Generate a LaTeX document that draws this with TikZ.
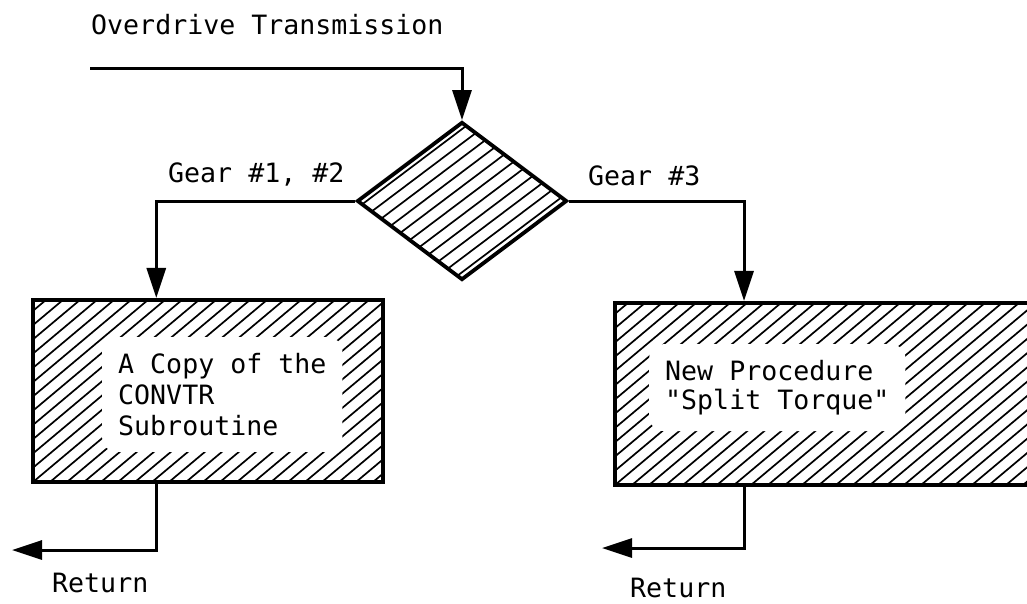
\documentclass[tikz,border=0pt]{standalone}
\usepackage{fontspec}
\setmonofont{DejaVu Sans Mono}
\usetikzlibrary{shapes.geometric,arrows.meta,calc}

\begin{document}
\begin{tikzpicture}[x=1pt,y=-1pt,
  conn/.style={line width=3pt},
  tip/.style={-{Triangle[length=30pt,width=19pt]}},
  typewriter/.style={font=\ttfamily\fontsize{26.6}{31}\selectfont},
  lbl/.style={typewriter, inner sep=0pt, anchor=base west},
  hatch/.style 2 args={path picture={
      \foreach \k in {-45,...,45}
        \draw[line width=1.7pt]
          ([xshift=\k*#1]path picture bounding box.south west) -- ++(#2:800pt);}},
  blockbox/.style={draw, line width=4.2pt, rectangle, inner sep=0pt, hatch={17pt}{40}},
  choice/.style={draw, line width=3.8pt, diamond, inner sep=0pt, hatch={19pt}{37}},
  clearing/.style={typewriter, fill=white, inner sep=16pt, rounded corners=14pt,
                   align=left, anchor=north west}
]
\useasboundingbox (0,0) rectangle (1027,603);
\clip (0,0) rectangle (1027,603);

% decision and the two procedure blocks
\node[choice, minimum width=210pt, minimum height=158pt] (dec) at (462,201) {};
\node[blockbox, minimum width=350pt, minimum height=182pt] (copy) at (208,391) {};
\node[blockbox, minimum width=430pt, minimum height=182pt] (proc) at (830,394) {};

% texts inside the blocks, on cleared patches of the hatching
\node[clearing] (copytext) at (102,337) {A Copy of the\\CONVTR\\Subroutine};
\node[clearing] (proctext) at (649,344) {New Procedure\\[-2pt]"Split Torque"};

% labels
\node[lbl] (title) at (91,34) {Overdrive Transmission};
\node[lbl] (gearA) at (168,182) {Gear \#1, \#2};
\node[lbl] (gearB) at (588,185) {Gear \#3};
\node[lbl] (retA) at (52,592) {Return};
\node[lbl] (retB) at (630,597) {Return};

% free ends of the connectors
\coordinate (entry) at (90,68);
\coordinate (exitA) at (12,550);
\coordinate (exitB) at (602,548);

% connectors
\draw[conn, tip] (entry) -| (dec.north);
\draw[conn, tip] (dec.west) -| ($(copy.north west)!0.354!(copy.north east)$);
\draw[conn, tip] (dec.east) -| ($(proc.north west)!0.302!(proc.north east)$);
\draw[conn, tip] ($(copy.south west)!0.354!(copy.south east)$) |- (exitA);
\draw[conn, tip] ($(proc.south west)!0.302!(proc.south east)$) |- (exitB);
\end{tikzpicture}
\end{document}
